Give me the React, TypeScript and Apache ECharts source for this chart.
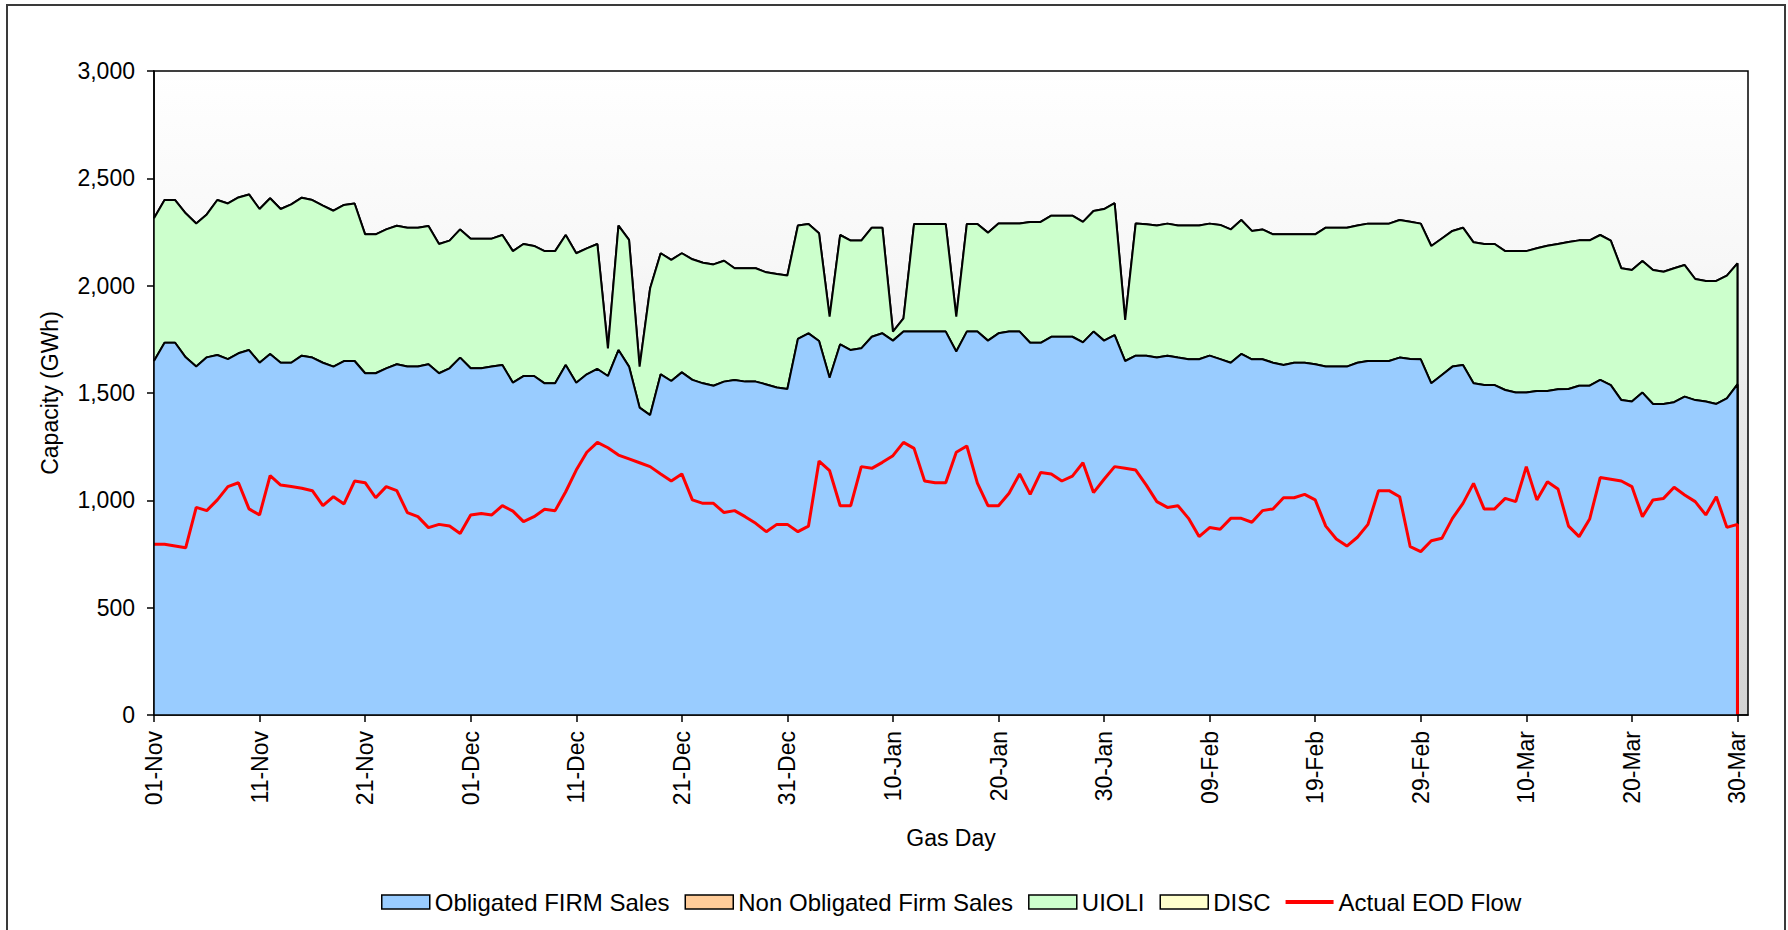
import { useEffect, useRef } from "react";
import * as echarts from "echarts";

const FONT = "'Liberation Sans', Arial, Helvetica, sans-serif";

// Tick labels every 10 gas days (01-Nov .. 30-Mar)
const xTickLabels = [
  "01-Nov", "11-Nov", "21-Nov", "01-Dec", "11-Dec", "21-Dec", "31-Dec", "10-Jan",
  "20-Jan", "30-Jan", "09-Feb", "19-Feb", "29-Feb", "10-Mar", "20-Mar", "30-Mar",
];

const yTicks = [0, 500, 1000, 1500, 2000, 2500, 3000];

// GWh per gas day, index 0 = 01-Nov, index 150 = 30-Mar
const obligatedFirmSales = [
  1649, 1734, 1734, 1666, 1623, 1666, 1677, 1658, 1685, 1700,
  1641, 1682, 1641, 1641, 1674, 1665, 1641, 1623, 1649, 1649,
  1592, 1592, 1615, 1634, 1623, 1623, 1634, 1592, 1615, 1665,
  1615, 1615, 1623, 1630, 1548, 1579, 1579, 1545, 1545, 1630,
  1548, 1587, 1612, 1579, 1700, 1623, 1432, 1397, 1587, 1556,
  1596, 1561, 1545, 1534, 1553, 1561, 1553, 1553, 1540, 1526,
  1519, 1752, 1778, 1742, 1571, 1727, 1700, 1708, 1762, 1778,
  1744, 1786, 1786, 1786, 1786, 1786, 1693, 1786, 1786, 1744,
  1778, 1786, 1786, 1734, 1734, 1762, 1762, 1762, 1736, 1786,
  1744, 1770, 1649, 1674, 1674, 1665, 1674, 1665, 1657, 1657,
  1674, 1658, 1641, 1682, 1657, 1657, 1641, 1630, 1641, 1641,
  1634, 1623, 1623, 1623, 1641, 1649, 1649, 1649, 1665, 1658,
  1657, 1545, 1584, 1623, 1630, 1545, 1537, 1537, 1514, 1502,
  1502, 1509, 1509, 1517, 1519, 1534, 1534, 1561, 1537, 1467,
  1460, 1502, 1449, 1449, 1457, 1483, 1467, 1460, 1449, 1475,
  1540,
];

const nonObligatedFirmSales = [
  0, 0, 0, 0, 0, 0, 0, 0, 0, 0, 0, 0, 0, 0, 0, 0, 0, 0, 0, 0,
  0, 0, 0, 0, 0, 0, 0, 0, 0, 0, 0, 0, 0, 0, 0, 0, 0, 0, 0, 0,
  0, 0, 0, 0, 0, 0, 0, 0, 0, 0, 0, 0, 0, 0, 0, 0, 0, 0, 0, 0,
  0, 0, 0, 0, 0, 0, 0, 0, 0, 0, 0, 0, 0, 0, 0, 0, 0, 0, 0, 0,
  0, 0, 0, 0, 0, 0, 0, 0, 0, 0, 0, 0, 0, 0, 0, 0, 0, 0, 0, 0,
  0, 0, 0, 0, 0, 0, 0, 0, 0, 0, 0, 0, 0, 0, 0, 0, 0, 0, 0, 0,
  0, 0, 0, 0, 0, 0, 0, 0, 0, 0, 0, 0, 0, 0, 0, 0, 0, 0, 0, 0,
  0, 0, 0, 0, 0, 0, 0, 0, 0, 0, 0,
];

const uioli = [
  665, 665, 665, 671, 667, 666, 722, 725, 726, 725,
  716, 725, 716, 738, 736, 734, 732, 726, 727, 734,
  647, 647, 647, 645, 647, 647, 644, 602, 595, 597,
  604, 604, 596, 606, 613, 615, 606, 616, 616, 606,
  603, 587, 582, 129, 580, 590, 191, 591, 564, 564,
  555, 562, 562, 565, 563, 520, 528, 528, 522, 528,
  528, 528, 509, 502, 285, 509, 510, 502, 508, 492,
  42, 62, 501, 501, 501, 501, 163, 501, 501, 503,
  512, 504, 504, 563, 563, 564, 564, 564, 561, 562,
  613, 614, 191, 616, 612, 615, 615, 615, 623, 623,
  615, 625, 621, 624, 598, 605, 598, 609, 598, 598,
  605, 647, 647, 647, 639, 640, 640, 640, 641, 640,
  632, 640, 636, 632, 640, 657, 657, 657, 647, 659,
  659, 665, 677, 677, 684, 677, 677, 675, 673, 614,
  613, 613, 624, 616, 624, 613, 564, 562, 573, 572,
  564,
];

const disc = [
  0, 0, 0, 0, 0, 0, 0, 0, 0, 0, 0, 0, 0, 0, 0, 0, 0, 0, 0, 0,
  0, 0, 0, 0, 0, 0, 0, 0, 0, 0, 0, 0, 0, 0, 0, 0, 0, 0, 0, 0,
  0, 0, 0, 0, 0, 0, 0, 0, 0, 0, 0, 0, 0, 0, 0, 0, 0, 0, 0, 0,
  0, 0, 0, 0, 0, 0, 0, 0, 0, 0, 0, 0, 0, 0, 0, 0, 0, 0, 0, 0,
  0, 0, 0, 0, 0, 0, 0, 0, 0, 0, 0, 0, 0, 0, 0, 0, 0, 0, 0, 0,
  0, 0, 0, 0, 0, 0, 0, 0, 0, 0, 0, 0, 0, 0, 0, 0, 0, 0, 0, 0,
  0, 0, 0, 0, 0, 0, 0, 0, 0, 0, 0, 0, 0, 0, 0, 0, 0, 0, 0, 0,
  0, 0, 0, 0, 0, 0, 0, 0, 0, 0, 0,
];

const actualEodFlow = [
  795, 795, 787, 779, 967, 952, 1002, 1064, 1082, 960,
  932, 1115, 1071, 1064, 1056, 1045, 975, 1017, 983, 1090,
  1082, 1012, 1064, 1045, 943, 924, 873, 888, 880, 846,
  932, 939, 932, 975, 950, 901, 924, 958, 952, 1040,
  1141, 1224, 1270, 1245, 1211, 1193, 1175, 1157, 1123, 1090,
  1123, 1002, 986, 986, 943, 952, 924, 893, 854, 888,
  888, 854, 880, 1183, 1138, 975, 975, 1157, 1149, 1177,
  1208, 1270, 1242, 1090, 1082, 1082, 1224, 1253, 1080, 975,
  975, 1033, 1123, 1028, 1130, 1123, 1090, 1113, 1175, 1036,
  1098, 1157, 1149, 1141, 1071, 994, 967, 975, 916, 831,
  873, 865, 916, 916, 898, 952, 960, 1012, 1012, 1028,
  1002, 880, 820, 787, 828, 888, 1045, 1045, 1017, 784,
  761, 812, 823, 916, 986, 1079, 960, 960, 1009, 994,
  1157, 1002, 1087, 1053, 880, 831, 913, 1106, 1098, 1090,
  1064, 924, 1002, 1009, 1061, 1025, 994, 932, 1017, 874,
  888,
];

const SERIES_NAMES = [
  "Obligated FIRM Sales",
  "Non Obligated Firm Sales",
  "UIOLI",
  "DISC",
  "Actual EOD Flow",
];
const COLORS = ["#99ccff", "#ffcc99", "#ccffcc", "#ffffcc", "#ff0000"];

export default function App() {
  const ref = useRef<HTMLDivElement>(null);

  useEffect(() => {
    if (!ref.current) return;
    const chart = echarts.init(ref.current, undefined, { renderer: "svg" });

    const n = obligatedFirmSales.length;
    const lastX = n - 1;
    // cumulative (stacked) tops, drawn as overlapping areas
    const top1 = obligatedFirmSales.map((v, i) => v + nonObligatedFirmSales[i]);
    const top2 = top1.map((v, i) => v + uioli[i]);
    const top3 = top2.map((v, i) => v + disc[i]);
    const toPairs = (arr: number[]) => [
      ...arr.map((v, i) => [i, v]),
      [lastX, 0],
    ];

    const area = (name: string, data: number[], color: string, z: number) => ({
      name,
      type: "line",
      data: toPairs(data),
      z,
      symbol: "none",
      showSymbol: false,
      silent: true,
      lineStyle: { color: "#000000", width: 2 },
      areaStyle: { color, opacity: 1 },
      itemStyle: { color },
    });

    const tickVals = xTickLabels.map((_, i) => i * 10);
    const boxStyle = (c: string) => ({ color: c, borderColor: "#000", borderWidth: 1.5 });

    const option: any = {
      animation: false,
      backgroundColor: "#ffffff",
      textStyle: { fontFamily: FONT, color: "#000" },
      graphic: [
        {
          type: "rect",
          shape: { x: 7, y: 5, width: 1778, height: 1000 },
          style: { fill: "none", stroke: "#3a3a3a", lineWidth: 2 },
          silent: true,
          z: 100,
        },
      ],
      grid: {
        left: 154,
        top: 71,
        right: 40,
        bottom: 215,
        show: true,
        backgroundColor: {
          type: "linear",
          x: 0,
          y: 0,
          x2: 0,
          y2: 1,
          colorStops: [
            { offset: 0, color: "#ffffff" },
            { offset: 0.3, color: "#f7f7f7" },
            { offset: 0.6, color: "#e5e5e5" },
            { offset: 1, color: "#d3d3d3" },
          ],
        },
        borderColor: "#000000",
        borderWidth: 1.5,
      },
      legend: {
        left: 376,
        top: 885,
        itemWidth: 48,
        itemHeight: 14,
        itemGap: 15,
        selectedMode: false,
        textStyle: { fontSize: 24, color: "#000", fontFamily: FONT },
        data: [
          { name: SERIES_NAMES[0], icon: "rect", itemStyle: boxStyle(COLORS[0]) },
          { name: SERIES_NAMES[1], icon: "rect", itemStyle: boxStyle(COLORS[1]) },
          { name: SERIES_NAMES[2], icon: "rect", itemStyle: boxStyle(COLORS[2]) },
          { name: SERIES_NAMES[3], icon: "rect", itemStyle: boxStyle(COLORS[3]) },
          {
            name: SERIES_NAMES[4],
            icon: "path://M0,0L48,0L48,4L0,4Z",
            itemStyle: { color: COLORS[4], borderWidth: 0 },
          },
        ],
      },
      xAxis: {
        type: "value",
        min: 0,
        max: 151,
        z: 10,
        name: "Gas Day",
        nameLocation: "middle",
        nameGap: 111,
        nameTextStyle: { fontSize: 23, color: "#000", fontFamily: FONT },
        axisLine: { show: true, onZero: false, lineStyle: { color: "#000", width: 1.5 } },
        axisTick: { show: true, customValues: tickVals, length: 7, lineStyle: { color: "#000", width: 1.5 } },
        axisLabel: {
          customValues: tickVals,
          rotate: 90,
          margin: 16,
          fontSize: 23,
          color: "#000",
          fontFamily: FONT,
          formatter: (v: number) => xTickLabels[Math.round(v / 10)] ?? "",
        },
        splitLine: { show: false },
      },
      yAxis: {
        type: "value",
        min: 0,
        max: 3000,
        interval: 500,
        z: 10,
        name: "Capacity (GWh)",
        nameLocation: "middle",
        nameGap: 93,
        nameRotate: 90,
        nameTextStyle: { fontSize: 23, color: "#000", fontFamily: FONT },
        axisLine: { show: true, lineStyle: { color: "#000", width: 1.5 } },
        axisTick: { show: true, length: 7, lineStyle: { color: "#000", width: 1.5 } },
        axisLabel: {
          margin: 19,
          fontSize: 23,
          color: "#000",
          fontFamily: FONT,
          customValues: yTicks,
          formatter: (v: number) => v.toLocaleString("en-US"),
        },
        splitLine: { show: false },
      },
      series: [
        area(SERIES_NAMES[0], obligatedFirmSales, COLORS[0], 4),
        area(SERIES_NAMES[1], top1, COLORS[1], 3),
        area(SERIES_NAMES[2], top2, COLORS[2], 2),
        area(SERIES_NAMES[3], top3, COLORS[3], 1),
        {
          name: SERIES_NAMES[4],
          type: "line",
          data: toPairs(actualEodFlow),
          z: 6,
          symbol: "none",
          showSymbol: false,
          silent: true,
          lineStyle: { color: COLORS[4], width: 3 },
          itemStyle: { color: COLORS[4] },
        },
      ],
    };

    chart.setOption(option);
    return () => chart.dispose();
  }, []);

  return (
    <div
      ref={ref}
      style={{ position: "fixed", left: 0, top: 0, width: 1788, height: 930, background: "#fff" }}
    />
  );
}
